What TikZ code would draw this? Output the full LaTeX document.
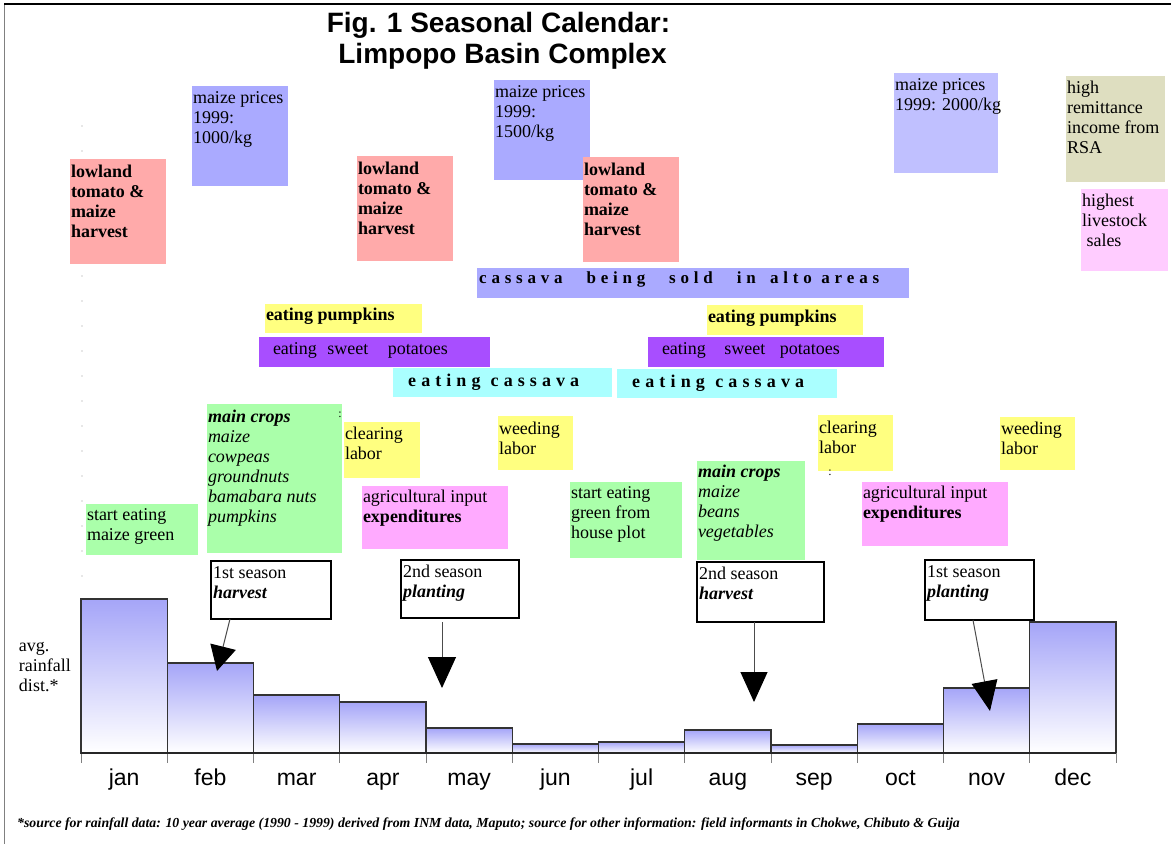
\documentclass[tikz,border=0pt]{standalone}
\usepackage{fontspec}
\setmainfont{Liberation Serif}
\newfontfamily\arialf{Liberation Sans}
\usetikzlibrary{arrows.meta}
\definecolor{cpink}{RGB}{255,170,170}
\definecolor{cblue}{RGB}{170,170,255}
\definecolor{cblueL}{RGB}{192,192,255}
\definecolor{cyel}{RGB}{255,255,128}
\definecolor{cpurp}{RGB}{168,78,255}
\definecolor{ccyan}{RGB}{170,255,255}
\definecolor{cgreen}{RGB}{170,255,170}
\definecolor{cmag}{RGB}{255,170,255}
\definecolor{ctan}{RGB}{222,222,192}
\definecolor{clpink}{RGB}{255,204,255}
\definecolor{cbar}{RGB}{165,165,248}
\tikzset{
  boxbg/.style={draw=none, inner sep=0pt, outer sep=0pt, anchor=north west},
  boxtxt/.style={inner sep=0pt, outer sep=0pt, anchor=base west, font=\fontsize{18}{20}\selectfont},
  notebox/.style={draw=black, line width=1.1pt, fill=white, inner sep=0pt, outer sep=0pt, anchor=north west},
  ptr/.style={draw=black!70, line width=1pt},
  month/.style={font=\arialf\fontsize{23}{25}\selectfont, anchor=base, inner sep=0pt},
  bar/.style={draw=black!80, line width=1.2pt, top color=cbar, bottom color=white},
  spaced/.style={inner sep=0pt, anchor=base west, font=\bfseries\fontsize{17}{19}\selectfont},
}
\newcommand\lns[1]{\begin{tabular}[t]{@{}l@{}}#1\end{tabular}}
% name, x, y, w, h, colour, baseline offset, text
\newcommand\calbox[8]{%
  \node[boxbg, fill=#6, minimum width=#4, minimum height=#5] (#1) at (#2,#3) {};
  \node[boxtxt] (#1t) at ([xshift=1pt,yshift=-#7pt]#1.north west) {\lns{#8}};
}
\newcommand\notebx[6]{%
  \node[notebox, minimum width=#4, minimum height=#5] (#1) at (#2,#3) {};
  \node[boxtxt] (#1t) at ([xshift=2pt,yshift=-17pt]#1.north west) {\lns{#6}};
}
\begin{document}
\begin{tikzpicture}[x=1pt,y=-1pt]
\useasboundingbox (0,0) rectangle (1171,844);
% frame
\draw[gray, line width=1.5pt] (4.5,4) -- (4.5,844);
\draw[black, line width=1.2pt] (4,4) -- (1171,4);
% dotted guide
\foreach \y in {126,151,...,576} \fill[gray!80] (82,\y) circle (0.6);
% title
\node[font=\arialf\bfseries\fontsize{28}{30}\selectfont, anchor=base, inner sep=0pt] (title1) at (498.5,32) {Fig. 1 Seasonal Calendar:};
\node[font=\arialf\bfseries\fontsize{28}{30}\selectfont, anchor=base, inner sep=0pt] (title2) at (502.5,63) {Limpopo Basin Complex};
% top boxes
\calbox{pr1}{192}{86}{96}{100}{cblue}{17}{maize prices\\1999:\\1000/kg}
\calbox{hv1}{70}{159}{96}{105}{cpink}{18}{\bfseries lowland\\\bfseries tomato \&\\\bfseries maize\\\bfseries harvest}
\calbox{hv2}{357}{156}{96}{105}{cpink}{18}{\bfseries lowland\\\bfseries tomato \&\\\bfseries maize\\\bfseries harvest}
\calbox{pr2}{494}{80}{96}{100}{cblue}{17}{maize prices\\1999:\\1500/kg}
\calbox{hv3}{583}{157}{96}{105}{cpink}{18}{\bfseries lowland\\\bfseries tomato \&\\\bfseries maize\\\bfseries harvest}
\calbox{pr3}{894}{73}{104}{100}{cblueL}{17}{maize prices\\1999: 2000/kg}
\calbox{rem}{1066}{76}{99}{106}{ctan}{17}{high\\remittance\\income from\\RSA}
\calbox{liv}{1081}{189}{87}{82}{clpink}{17}{highest\\livestock\\\ sales}
% cassava sold
\node[boxbg, fill=cblue, minimum width=432, minimum height=30] (sold) at (477,268) {};
\node[spaced] (soldt) at ([xshift=2pt,yshift=-15.5pt]sold.north west) {\makebox[400pt][s]{c a s s a v a\ \ \ \ \ b e i n g\ \ \ \ \ s o l d\ \ \ \ \ i n\ \ \ a l t o\ \ a r e a s}};
% pumpkins / sweet potatoes / cassava
\calbox{pk1}{265}{304}{157}{29}{cyel}{16}{\bfseries eating pumpkins}
\calbox{pk2}{707}{305}{156}{30}{cyel}{17}{\bfseries eating pumpkins}
\calbox{sp1}{259}{337}{231}{30}{cpurp}{17}{\hspace{13pt}eating\hspace{6pt} sweet\hspace{15pt} potatoes}
\calbox{sp2}{648}{337}{236}{30}{cpurp}{17}{\hspace{13pt}eating\hspace{14pt} sweet\hspace{10pt} potatoes}
\node[boxbg, fill=ccyan, minimum width=219, minimum height=29] (ec1) at (393,368) {};
\node[spaced, font=\bfseries\fontsize{18}{20}\selectfont] (ec1t) at ([xshift=15pt,yshift=-18pt]ec1.north west) {\makebox[171pt][s]{e a t i n g\ \ c a s s a v a}};
\node[boxbg, fill=ccyan, minimum width=220, minimum height=29] (ec2) at (617,369) {};
\node[spaced, font=\bfseries\fontsize{18}{20}\selectfont] (ec2t) at ([xshift=15pt,yshift=-18pt]ec2.north west) {\makebox[172pt][s]{e a t i n g\ \ c a s s a v a}};
% lower boxes
\calbox{mc1}{207}{404}{135}{149}{cgreen}{18}{\bfseries\itshape main crops\\\itshape maize\\\itshape cowpeas\\\itshape groundnuts\\\itshape bamabara nuts\\\itshape pumpkins}
\node[inner sep=0pt, font=\fontsize{12}{12}\selectfont] (colon1) at (340,415) {:};
\calbox{cl1}{344}{422}{76}{56}{cyel}{17}{clearing\\labor}
\calbox{sm}{86}{504}{112}{51}{cgreen}{16}{start eating\\maize green}
\calbox{ag1}{362}{486}{146}{63}{cmag}{16}{agricultural input\\\bfseries expenditures}
\calbox{wd1}{498}{416}{75}{54}{cyel}{18}{weeding\\labor}
\calbox{sg}{570}{482}{112}{76}{cgreen}{16}{start eating\\green from\\house plot}
\calbox{mc2}{697}{461}{108}{99}{cgreen}{16}{\bfseries\itshape main crops\\\itshape maize\\\itshape beans\\\itshape vegetables}
\calbox{cl2}{818}{415}{75}{56}{cyel}{18}{clearing\\labor}
\node[inner sep=0pt, font=\fontsize{12}{12}\selectfont] (colon2) at (830,473) {:};
\calbox{wd2}{1000}{417}{75}{53}{cyel}{17}{weeding\\labor}
\calbox{ag2}{862}{482}{146}{64}{cmag}{16}{agricultural input\\\bfseries expenditures}
% rainfall bars
\foreach \i/\t in {0/599,1/663,2/695,3/702,4/728,5/744,6/742,7/730,8/745,9/724,10/688,11/622}
  \shadedraw[bar] ({81+86.25*\i},753) rectangle ({81+86.25*(\i+1)},\t);
\foreach \i in {0,...,12} \draw[gray, line width=0.8pt] ({81+86.25*\i},753) -- ++(0,10);
\draw[black!85, line width=1.5pt] (81,753) -- (1116,753);
\foreach \m [count=\i from 0] in {jan,feb,mar,apr,may,jun,jul,aug,sep,oct,nov,dec}
  \node[month] (m\m) at ({81+86.25*(\i+0.5)},785) {\m};
\node[boxtxt] (avg) at (19,651) {\lns{avg.\\rainfall\\dist.*}};
% season notes
\notebx{n1}{211}{561}{120}{58}{1st season\\\bfseries\itshape harvest}
\notebx{n2}{401}{560}{118}{58}{2nd season\\\bfseries\itshape planting}
\notebx{n3}{697}{562}{127}{60}{2nd season\\\bfseries\itshape harvest}
\notebx{n4}{925}{560}{109}{60}{1st season\\\bfseries\itshape planting}
\coordinate (h1) at (217,671);
\coordinate (h2) at (442,688);
\coordinate (h3) at (754,702);
\coordinate (h4) at (990,711);
\draw[ptr, -{Triangle[length=25pt,width=26pt,color=black]}] ([xshift=19pt]n1.south west) -- (h1);
\draw[ptr, -{Triangle[length=31pt,width=28pt,color=black]}] ([xshift=41pt,yshift=-4pt]n2.south west) -- (h2);
\draw[ptr, -{Triangle[length=30pt,width=27pt,color=black]}] ([xshift=57pt]n3.south west) -- (h3);
\draw[ptr, -{Triangle[length=30pt,width=26pt,color=black]}] ([xshift=48pt]n4.south west) -- (h4);
% footnote
\node[inner sep=0pt, anchor=base west, font=\bfseries\itshape\fontsize{13.8}{15}\selectfont] (fn) at (17,827) {*source for rainfall data: 10 year average (1990 - 1999) derived from INM data, Maputo; source for other information: field informants in Chokwe, Chibuto \& Guija};
\end{tikzpicture}
\end{document}
